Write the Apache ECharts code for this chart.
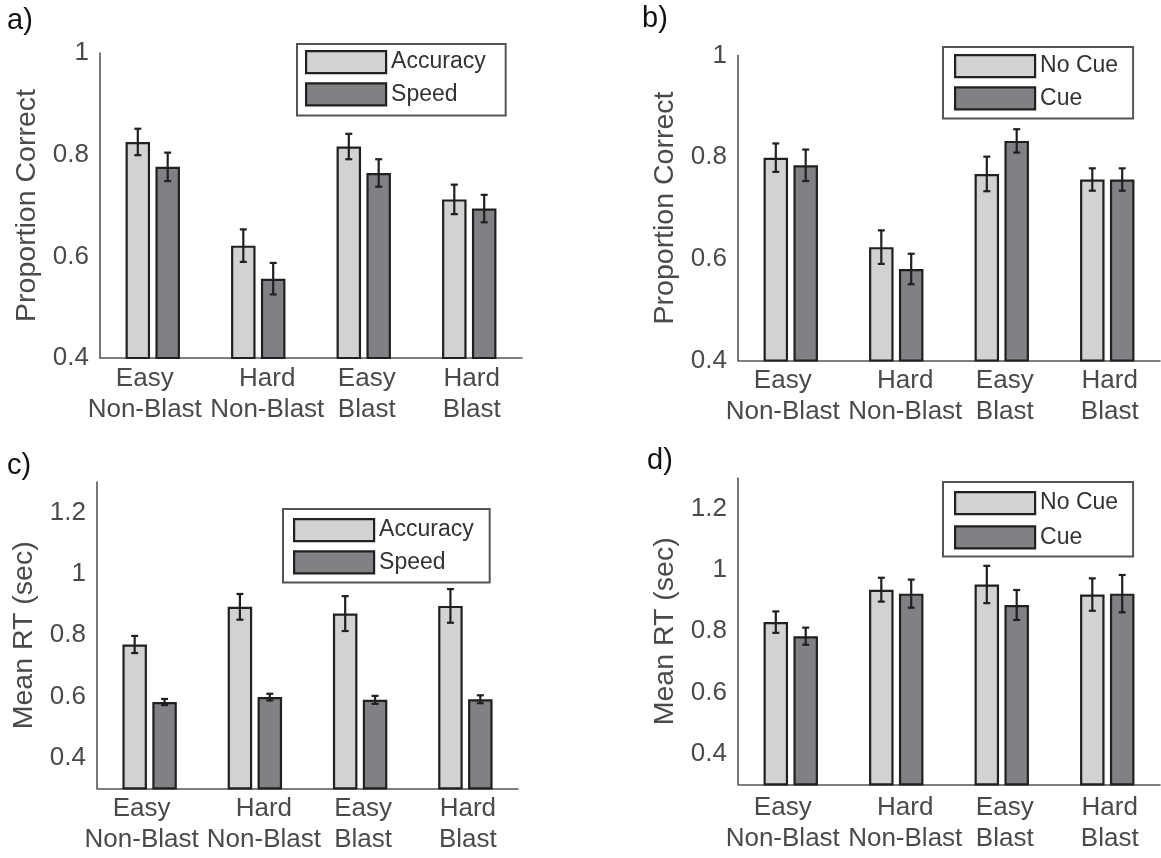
<!DOCTYPE html>
<html>
<head>
<meta charset="utf-8">
<script src="https://cdn.jsdelivr.net/npm/echarts@6/dist/echarts.min.js"></script>
<style>
html,body{margin:0;padding:0;background:#fff;}
#chart{width:1161px;height:858px;}
</style>
</head>
<body>
<div id="chart"></div>
<script>
// ---------- data ----------
const categories = ['Easy\nNon-Blast', 'Hard\nNon-Blast', 'Easy\nBlast', 'Hard\nBlast'];

// panel a) proportion correct, Accuracy vs Speed instructions
const accA    = [0.825, 0.621, 0.816, 0.712];
const accAErr = [0.026, 0.032, 0.025, 0.029];
const spdA    = [0.776, 0.556, 0.764, 0.694];
const spdAErr = [0.028, 0.031, 0.027, 0.027];

// panel b) proportion correct, No Cue vs Cue
const noCueB    = [0.799, 0.623, 0.767, 0.756];
const noCueBErr = [0.028, 0.033, 0.034, 0.022];
const cueB      = [0.784, 0.580, 0.832, 0.756];
const cueBErr   = [0.031, 0.030, 0.023, 0.022];

// panel c) mean RT, Accuracy vs Speed
const accC    = [0.770, 0.893, 0.871, 0.896];
const accCErr = [0.028, 0.042, 0.057, 0.055];
const spdC    = [0.582, 0.598, 0.589, 0.591];
const spdCErr = [0.010, 0.011, 0.013, 0.013];

// panel d) mean RT, No Cue vs Cue
const noCueD    = [0.830, 0.936, 0.953, 0.920];
const noCueDErr = [0.035, 0.039, 0.061, 0.053];
const cueD      = [0.784, 0.923, 0.886, 0.923];
const cueDErr   = [0.028, 0.046, 0.049, 0.061];

// tick labels
const yTicksAB = [0.4, 0.6, 0.8, 1];
const yTicksCD = [0.4, 0.6, 0.8, 1, 1.2];

// ---------- styling ----------
const FONT = 'Liberation Sans, Arial, Helvetica, sans-serif';
const LIGHT = '#d1d2d4';
const DARK = '#808184';
const EDGE = '#231f20';
const AXIS = '#555555';
const TXT = '#4a4a4a';
const BAR_W = 24.5;
const BAR_GAP = '22%';
const HALF_SEP = (BAR_W + BAR_W * 0.22) / 2;
const labelShift = [-8, 9, 3, 2.5];

const grids = [
  {left: 100, top: 53, width: 422, height: 305},
  {left: 738, top: 55.5, width: 422, height: 305},
  {left: 97, top: 482.3, width: 421, height: 306},
  {left: 738, top: 478.3, width: 422, height: 306}
];

function catData() {
  return categories.map((c, i) => {
    const s = labelShift[i];
    const pad = s < 0 ? [0, -2 * s, 0, 0] : [0, 0, 0, 2 * s];
    return {value: c, textStyle: {padding: pad}};
  });
}

function xAxis(idx, margin) {
  return {
    type: 'category', gridIndex: idx, data: catData(),
    axisLine: {show: true, lineStyle: {color: AXIS, width: 1.6}},
    axisTick: {show: false},
    axisLabel: {interval: 0, margin: margin, fontFamily: FONT, fontSize: 26, color: TXT, lineHeight: 31}
  };
}

function yAxis(idx, name, min, max, ticks) {
  return {
    type: 'value', gridIndex: idx, min: min, max: max,
    name: name, nameLocation: 'middle', nameGap: 58,
    nameTextStyle: {fontFamily: FONT, fontSize: 28.5, color: TXT},
    splitLine: {show: false},
    axisLine: {show: true, lineStyle: {color: AXIS, width: 1.6}},
    axisTick: {show: false},
    axisLabel: {customValues: ticks, margin: 11, fontFamily: FONT, fontSize: 26, color: TXT,
      formatter: v => String(Math.round(v * 10) / 10)}
  };
}

function bar(name, idx, values, color) {
  return {
    type: 'bar', name: name, xAxisIndex: idx, yAxisIndex: idx,
    data: values, barWidth: BAR_W, barGap: BAR_GAP,
    itemStyle: {color: color, borderColor: EDGE, borderWidth: 2.2},
    emphasis: {disabled: true}, z: 2
  };
}

function errBars(idx, values, errs, offset) {
  return {
    type: 'custom', xAxisIndex: idx, yAxisIndex: idx, z: 5, silent: true,
    data: values.map((v, i) => [i, v, errs[i]]),
    encode: {x: 0, y: 1},
    renderItem: function (params, api) {
      const i = api.value(0), m = api.value(1), e = api.value(2);
      const c = api.coord([i, m]);
      const hi = api.coord([i, m + e]);
      const lo = api.coord([i, m - e]);
      const x = c[0] + offset;
      const st = {stroke: EDGE, lineWidth: 2.2};
      return {type: 'group', children: [
        {type: 'line', shape: {x1: x, y1: hi[1], x2: x, y2: lo[1]}, style: st},
        {type: 'line', shape: {x1: x - 3.5, y1: hi[1], x2: x + 3.5, y2: hi[1]}, style: st},
        {type: 'line', shape: {x1: x - 3.5, y1: lo[1], x2: x + 3.5, y2: lo[1]}, style: st}
      ]};
    }
  };
}

function legend(names, left, top, padding, gap) {
  return {
    data: names, orient: 'vertical', left: left, top: top,
    icon: 'rect', itemWidth: 80, itemHeight: 22, itemGap: gap,
    padding: padding, backgroundColor: '#fff',
    borderColor: AXIS, borderWidth: 2, borderRadius: 0,
    selectedMode: false,
    itemStyle: {borderColor: EDGE, borderWidth: 2.2},
    textStyle: {fontFamily: FONT, fontSize: 23, color: '#333'}
  };
}

function title(t, left, top) {
  return {text: t, left: left, top: top, padding: 0,
    textStyle: {fontFamily: FONT, fontSize: 29, fontWeight: 'normal', color: '#111'}};
}

const option = {
  backgroundColor: '#fff',
  animation: false,
  title: [title('a)', 7, 6), title('b)', 642, 4), title('c)', 7, 451), title('d)', 647, 446)],
  grid: grids,
  xAxis: [xAxis(0, 5), xAxis(1, 5), xAxis(2, 5), xAxis(3, 8)],
  yAxis: [
    yAxis(0, 'Proportion Correct', 0.4, 1, yTicksAB),
    yAxis(1, 'Proportion Correct', 0.4, 1, yTicksAB),
    yAxis(2, 'Mean RT (sec)', 0.3, 1.3, yTicksCD),
    yAxis(3, 'Mean RT (sec)', 0.3, 1.3, yTicksCD)
  ],
  legend: [
    legend(['Accuracy', 'Speed'], 297, 44, [6, 20, 9, 8], 8),
    legend(['No Cue', 'Cue'], 943, 47, [7, 15, 8, 11], 8),
    legend(['Accuracy', 'Speed'], 283, 509, [9, 16, 8, 10], 8),
    legend(['No Cue', 'Cue'], 943, 482, [9, 15, 7, 11], 10)
  ],
  series: [
    bar('Accuracy', 0, accA, LIGHT), bar('Speed', 0, spdA, DARK),
    errBars(0, accA, accAErr, -HALF_SEP), errBars(0, spdA, spdAErr, HALF_SEP),
    bar('No Cue', 1, noCueB, LIGHT), bar('Cue', 1, cueB, DARK),
    errBars(1, noCueB, noCueBErr, -HALF_SEP), errBars(1, cueB, cueBErr, HALF_SEP),
    bar('Accuracy', 2, accC, LIGHT), bar('Speed', 2, spdC, DARK),
    errBars(2, accC, accCErr, -HALF_SEP), errBars(2, spdC, spdCErr, HALF_SEP),
    bar('No Cue', 3, noCueD, LIGHT), bar('Cue', 3, cueD, DARK),
    errBars(3, noCueD, noCueDErr, -HALF_SEP), errBars(3, cueD, cueDErr, HALF_SEP)
  ]
};

const chart = echarts.init(document.getElementById('chart'), null, {renderer: 'canvas'});
chart.setOption(option);
</script>
</body>
</html>
